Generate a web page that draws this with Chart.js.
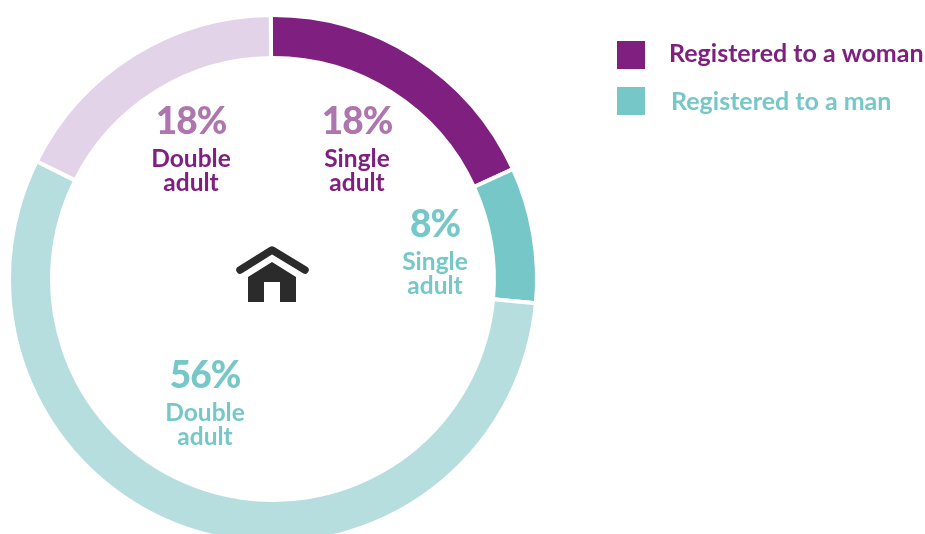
<!DOCTYPE html>
<html>
<head>
<meta charset="utf-8">
<style>
  html, body { margin: 0; padding: 0; background: #fff; }
  #wrap { position: relative; width: 925px; height: 534px; overflow: hidden; }
  canvas { position: absolute; left: 0; top: 0; }
</style>
</head>
<body>
<div id="wrap"><canvas id="donut" width="925" height="534"></canvas></div>
<script src="https://cdn.jsdelivr.net/npm/chart.js@4"></script>
<script>
const categories = ['Single adult', 'Single adult', 'Double adult', 'Double adult'];
// slice sizes as measured off the ring; the printed labels round them
const shares = [18.3, 8.3, 55.9, 17.5];
const percentLabels = ['18%', '8%', '56%', '18%'];
const sliceColors = ['#7f1f80', '#76c7c7', '#b7dede', '#e2d3e8'];
const bigColors = ['#ae75ae', '#76c7c7', '#76c7c7', '#ae75ae'];
const smallColors = ['#7f1f80', '#76c7c7', '#76c7c7', '#7f1f80'];
const labelSpots = [[357, 122, 159, 183], [435, 225, 262, 286], [205, 376, 413, 437], [191, 122, 159, 183]];
const legendLabels = ['Registered to a woman', 'Registered to a man'];
const legendColors = ['#7f1f80', '#76c7c7'];
const legendSpots = [[617, 41, 669, 54], [617, 87, 671, 102]];

const textFont = 'Lato, "Open Sans", sans-serif';

const annotations = {
    id: 'annotations',
    afterDraw(chart) {
        const ctx = chart.ctx;
        ctx.save();
        ctx.textAlign = 'center';
        ctx.textBaseline = 'middle';
        shares.forEach((s, i) => {
            const p = labelSpots[i];
            const words = categories[i].split(' ');
            ctx.fillStyle = bigColors[i];
            ctx.font = '900 37px ' + textFont;
            ctx.letterSpacing = '-1px';
            ctx.fillText(percentLabels[i], p[0], p[1]);
            ctx.letterSpacing = '0px';
            ctx.fillStyle = smallColors[i];
            ctx.font = '700 24.5px ' + textFont;
            ctx.fillText(words[0], p[0], p[2]);
            ctx.fillText(words[1], p[0], p[3]);
        });
        legendLabels.forEach((t, i) => {
            const p = legendSpots[i];
            ctx.fillStyle = legendColors[i];
            ctx.fillRect(p[0], p[1], 28, 28);
            ctx.textAlign = 'left';
            ctx.font = '700 25px ' + textFont;
            ctx.fillText(t, p[2], p[3]);
        });
        // house icon
        ctx.fillStyle = '#2b2b2b';
        ctx.strokeStyle = '#2b2b2b';
        ctx.lineWidth = 7.5;
        ctx.lineCap = 'round';
        ctx.lineJoin = 'round';
        ctx.beginPath();
        ctx.moveTo(240, 270);
        ctx.lineTo(272, 250);
        ctx.lineTo(305, 270);
        ctx.stroke();
        ctx.beginPath();
        ctx.moveTo(248, 277);
        ctx.lineTo(272, 262);
        ctx.lineTo(296, 277);
        ctx.lineTo(296, 302);
        ctx.lineTo(280, 302);
        ctx.lineTo(280, 282);
        ctx.lineTo(264, 282);
        ctx.lineTo(264, 302);
        ctx.lineTo(248, 302);
        ctx.closePath();
        ctx.fill();
        ctx.restore();
    }
};

new Chart(document.getElementById('donut'), {
    type: 'doughnut',
    data: {
        labels: categories,
        datasets: [{
            data: shares,
            backgroundColor: sliceColors,
            borderColor: '#fff',
            borderWidth: 4
        }]
    },
    options: {
        responsive: false,
        animation: false,
        rotation: -0.5,
        cutout: '83.7%',
        radius: 264,
        layout: { padding: { left: 0, top: 24, right: 379, bottom: 0 } },
        plugins: { legend: { display: false }, tooltip: { enabled: false } }
    },
    plugins: [annotations]
});
</script>
</body>
</html>
